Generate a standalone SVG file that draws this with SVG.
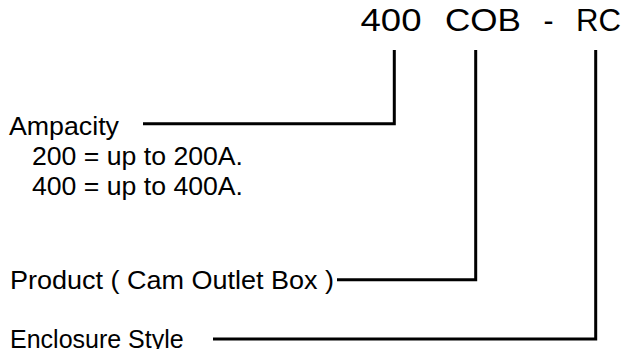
<svg xmlns="http://www.w3.org/2000/svg" width="626" height="349" viewBox="0 0 626 349">
  <style>
    .t { font-family: "Liberation Sans", Arial, sans-serif; fill: #000; }
    .title { font-size: 31px; }
    .lbl { font-size: 25px; }
    .conn { fill: none; stroke: #000; stroke-width: 3; stroke-linejoin: miter; stroke-linecap: butt; }
  </style>
  <rect width="626" height="349" fill="#fff"/>
  <g id="code">
    <text class="t title" x="360.5" y="31" textLength="61" lengthAdjust="spacingAndGlyphs">400</text>
    <text class="t title" x="445" y="31" textLength="76" lengthAdjust="spacingAndGlyphs">COB</text>
    <text class="t title" x="543.5" y="31" textLength="10" lengthAdjust="spacingAndGlyphs">-</text>
    <text class="t title" x="576" y="31" textLength="45" lengthAdjust="spacingAndGlyphs">RC</text>
  </g>
  <g id="connectors">
    <path class="conn" d="M143,123.7 H394.3 V50"/>
    <path class="conn" d="M337,279.7 H475.7 V50"/>
    <path class="conn" d="M213,339 H595.7 V50"/>
  </g>
  <g id="ampacity">
    <text class="t lbl" x="9" y="135" textLength="110" lengthAdjust="spacingAndGlyphs">Ampacity</text>
    <text class="t lbl" x="32" y="165" textLength="211" lengthAdjust="spacingAndGlyphs">200 = up to 200A.</text>
    <text class="t lbl" x="32" y="195" textLength="211" lengthAdjust="spacingAndGlyphs">400 = up to 400A.</text>
  </g>
  <g id="product">
    <text class="t lbl" x="10" y="288.5" textLength="324" lengthAdjust="spacingAndGlyphs">Product ( Cam Outlet Box )</text>
  </g>
  <g id="enclosure">
    <text class="t lbl" x="10" y="347.5">Enclosure Style</text>
  </g>
</svg>
